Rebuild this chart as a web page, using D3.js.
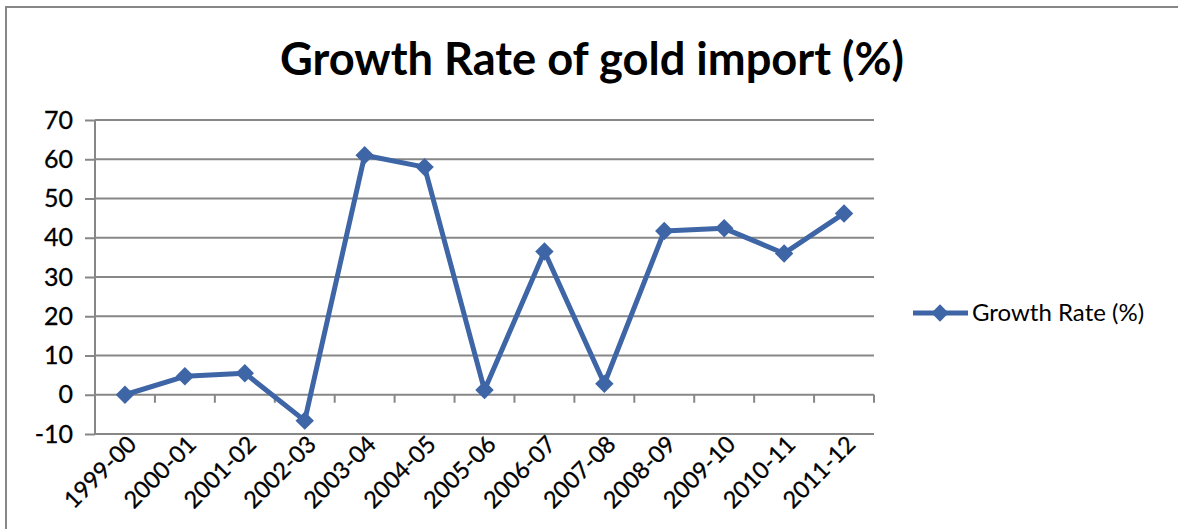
<!DOCTYPE html>
<html><head><meta charset="utf-8">
<script src="https://cdn.jsdelivr.net/npm/d3@7"></script>
<style>
html,body{margin:0;padding:0;background:#fff;overflow:hidden;}
svg{display:block;}
</style></head>
<body>
<svg id="chart" width="1178" height="529"></svg>
<script>
const categories = ["1999-00","2000-01","2001-02","2002-03","2003-04","2004-05","2005-06","2006-07","2007-08","2008-09","2009-10","2010-11","2011-12"];
const growthRate = [0, 4.7, 5.5, -6.6, 61, 58, 1.2, 36.5, 2.8, 41.7, 42.4, 36, 46.2];
const yTicks = [-10, 0, 10, 20, 30, 40, 50, 60, 70];
const seriesName = "Growth Rate (%)";
const titleText = "Growth Rate of gold import (%)";

(function () {
const svg = d3.select("#chart");
const W = 1178, H = 529;
const pLeft = 95, pRight = 874, pTop = 120, pBottom = 434;
const font = "Lato, 'Open Sans', sans-serif";
const lineColor = "#3E65A6";
const gridColor = "#878787";

// outer border
svg.append("rect").attr("x", 6).attr("y", 7).attr("width", W + 10).attr("height", H + 10)
  .attr("fill", "#fff").attr("stroke", gridColor).attr("stroke-width", 2);

const x = d3.scaleBand().domain(categories).range([pLeft, pRight]).paddingInner(0).paddingOuter(0);
const y = d3.scaleLinear().domain([-10, 70]).range([pBottom, pTop]);

// title
const title = svg.append("text").text(titleText)
  .attr("x", 592).attr("y", 75).attr("text-anchor", "middle")
  .attr("font-family", font).attr("font-weight", "bold").attr("font-size", 44).attr("fill", "#000");
const tw = title.node().getComputedTextLength();
title.attr("font-size", 44 * 624 / tw);

// y axis
const yAxis = d3.axisLeft(y).tickValues(yTicks).tickSize(10).tickPadding(12).tickFormat(d => String(d));
const gy = svg.append("g").attr("transform", `translate(${pLeft},0)`).call(yAxis);
gy.select(".domain").attr("stroke", gridColor).attr("stroke-width", 2).attr("d", `M0,${pTop}V${pBottom}`);
gy.selectAll(".tick line").attr("stroke", gridColor).attr("stroke-width", 2);
gy.selectAll(".tick text").attr("font-family", font).attr("font-size", 25).attr("fill", "#000")
  .attr("stroke", "#000").attr("stroke-width", 0.3);

// gridlines
svg.append("g").selectAll("line").data(yTicks).join("line")
  .attr("x1", pLeft).attr("x2", pRight)
  .attr("y1", d => y(d)).attr("y2", d => y(d))
  .attr("stroke", gridColor).attr("stroke-width", 2);

// x axis ticks at zero, at band boundaries
const boundaries = categories.map(c => x(c)).concat([pRight]);
svg.append("g").selectAll("line").data(boundaries).join("line")
  .attr("x1", d => d).attr("x2", d => d).attr("y1", y(0)).attr("y2", y(0) + 8)
  .attr("stroke", gridColor).attr("stroke-width", 2);

// x labels
svg.append("g").selectAll("text").data(categories).join("text")
  .attr("transform", d => `translate(${x(d) + x.bandwidth() / 2 + 7},${pBottom + 6}) rotate(-45)`)
  .attr("text-anchor", "end").attr("dy", "0.35em")
  .attr("font-family", font).attr("font-size", 23.5).attr("fill", "#000")
  .attr("stroke", "#000").attr("stroke-width", 0.3)
  .text(d => d);

// line
const pts = categories.map((c, i) => ({c, v: growthRate[i]}));
const line = d3.line().x(d => x(d.c) + x.bandwidth() / 2).y(d => y(d.v));
svg.append("path").datum(pts).attr("d", line).attr("fill", "none")
  .attr("stroke", lineColor).attr("stroke-width", 5).attr("stroke-linejoin", "round");

svg.append("g").selectAll("path").data(pts).join("path")
  .attr("d", d3.symbol().type(d3.symbolSquare).size(170))
  .attr("transform", d => `translate(${x(d.c) + x.bandwidth() / 2},${y(d.v)}) rotate(45)`)
  .attr("fill", lineColor);

// legend
const lg = svg.append("g");
lg.append("line").attr("x1", 913).attr("x2", 968).attr("y1", 313).attr("y2", 313)
  .attr("stroke", lineColor).attr("stroke-width", 5);
lg.append("path").attr("d", d3.symbol().type(d3.symbolSquare).size(150))
  .attr("transform", "translate(940,313) rotate(45)").attr("fill", lineColor);
lg.append("text").attr("x", 972).attr("y", 313).attr("dy", "0.35em")
  .attr("font-family", font).attr("font-size", 24).attr("fill", "#000").text(seriesName);
})();
</script>
</body></html>
